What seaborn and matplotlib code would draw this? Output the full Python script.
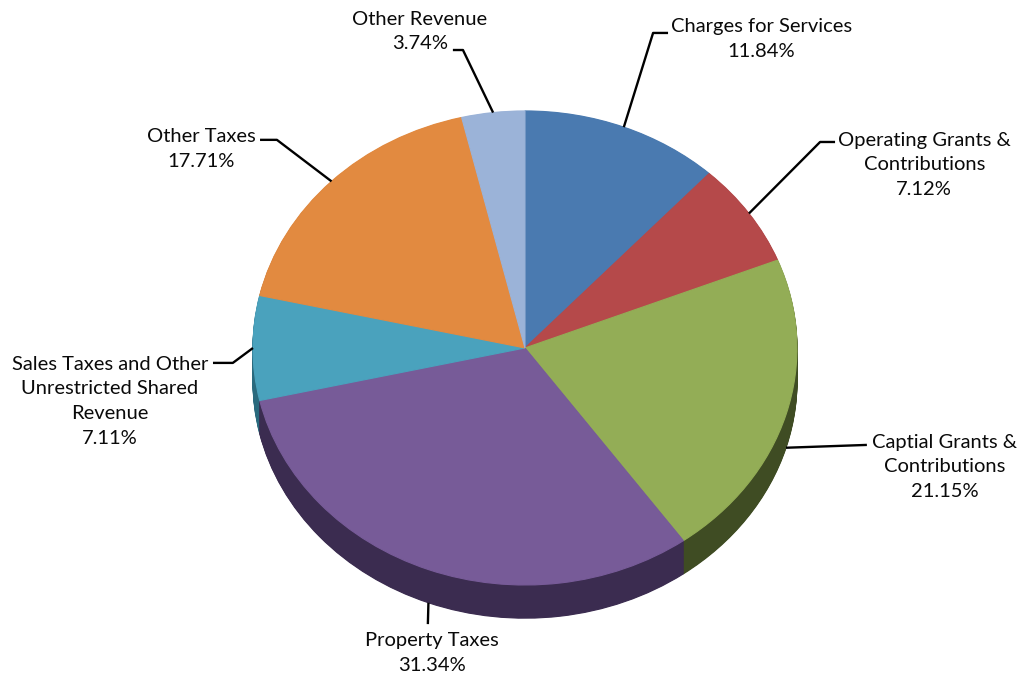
import numpy as np
import matplotlib
matplotlib.use("Agg")
import matplotlib.pyplot as plt
import seaborn as sns

# Revenue sources, clockwise from twelve o'clock
categories = [
    "Charges for Services",
    "Operating Grants &\nContributions",
    "Captial Grants &\nContributions",
    "Property Taxes",
    "Sales Taxes and Other\nUnrestricted Shared\nRevenue",
    "Other Taxes",
    "Other Revenue",
]
shares = [11.84, 7.12, 21.15, 31.34, 7.11, 17.71, 3.74]

top_colors = ["#4a7ab0", "#b5494a", "#93ad56", "#775b98", "#4aa2bd", "#e28a40", "#9bb3d8"]
side_colors = ["#2c4a70", "#6e2a2b", "#3f4c23", "#3b2c50", "#2a6a7e", "#8a5223", "#5d7090"]

# label block centres and leader-line elbow/end points (data units, pie radius = 1)
label_pos = [(0.868, 1.302), (1.468, 0.772), (1.542, -0.502), (-0.342, -1.287),
             (-1.526, -0.224), (-1.191, 0.840), (-0.386, 1.335)]
leader_pts = [
    [(0.471, 1.329), (0.526, 1.329)],
    [(1.085, 0.869), (1.140, 0.869)],
    [(1.257, -0.409)],
    [(-0.357, -1.165)],
    [(-1.074, -0.063), (-1.147, -0.063)],
    [(-0.912, 0.878), (-0.974, 0.878)],
    [(-0.228, 1.257), (-0.265, 1.257)],
]

sns.set_theme(style="white")
plt.rcParams["font.family"] = ["Lato", "DejaVu Sans"]

fig = plt.figure(figsize=(10.26, 6.81), dpi=100)
ax = fig.add_axes([0, 0, 1, 1])

depth = 0.14
n_layers = 40


def solid(wedges):
    for w in wedges:
        w.set_edgecolor(w.get_facecolor())
        w.set_linewidth(0.8)


# extruded side: stack of darker pies shifted downwards
for k in range(n_layers, 0, -1):
    wedges, _ = ax.pie(shares, colors=side_colors, startangle=90, counterclock=False,
                       center=(0, -depth * k / n_layers), radius=1.0, frame=True)
    solid(wedges)

# top face
wedges, _ = ax.pie(shares, colors=top_colors, startangle=90, counterclock=False,
                   center=(0, 0), radius=1.0, frame=True)
solid(wedges)

# labels with leader lines
total = float(np.sum(shares))
cum = np.cumsum([0] + shares[:-1])
for i, (name, val) in enumerate(zip(categories, shares)):
    theta = np.deg2rad((cum[i] + val / 2) / total * 360.0)
    ax_x, ax_y = np.sin(theta), np.cos(theta)
    if ax_y < -0.05:
        ax_y -= depth
    pts = [(ax_x, ax_y)] + leader_pts[i]
    xs, ys = zip(*pts)
    ax.plot(xs, ys, color="black", lw=1.7, solid_capstyle="butt", zorder=5)
    lx, ly = label_pos[i]
    ax.text(lx, ly, f"{name}\n{val:.2f}%", ha="center", va="center",
            fontsize=14.5, linespacing=1.55, color="#0a0a0a", zorder=6)

ax.set_aspect("auto")
ax.set_xlim(-1.930, 1.842)
ax.set_ylim(-1.405, 1.468)
ax.axis("off")

fig.savefig("out.png", dpi=100, facecolor="white")
